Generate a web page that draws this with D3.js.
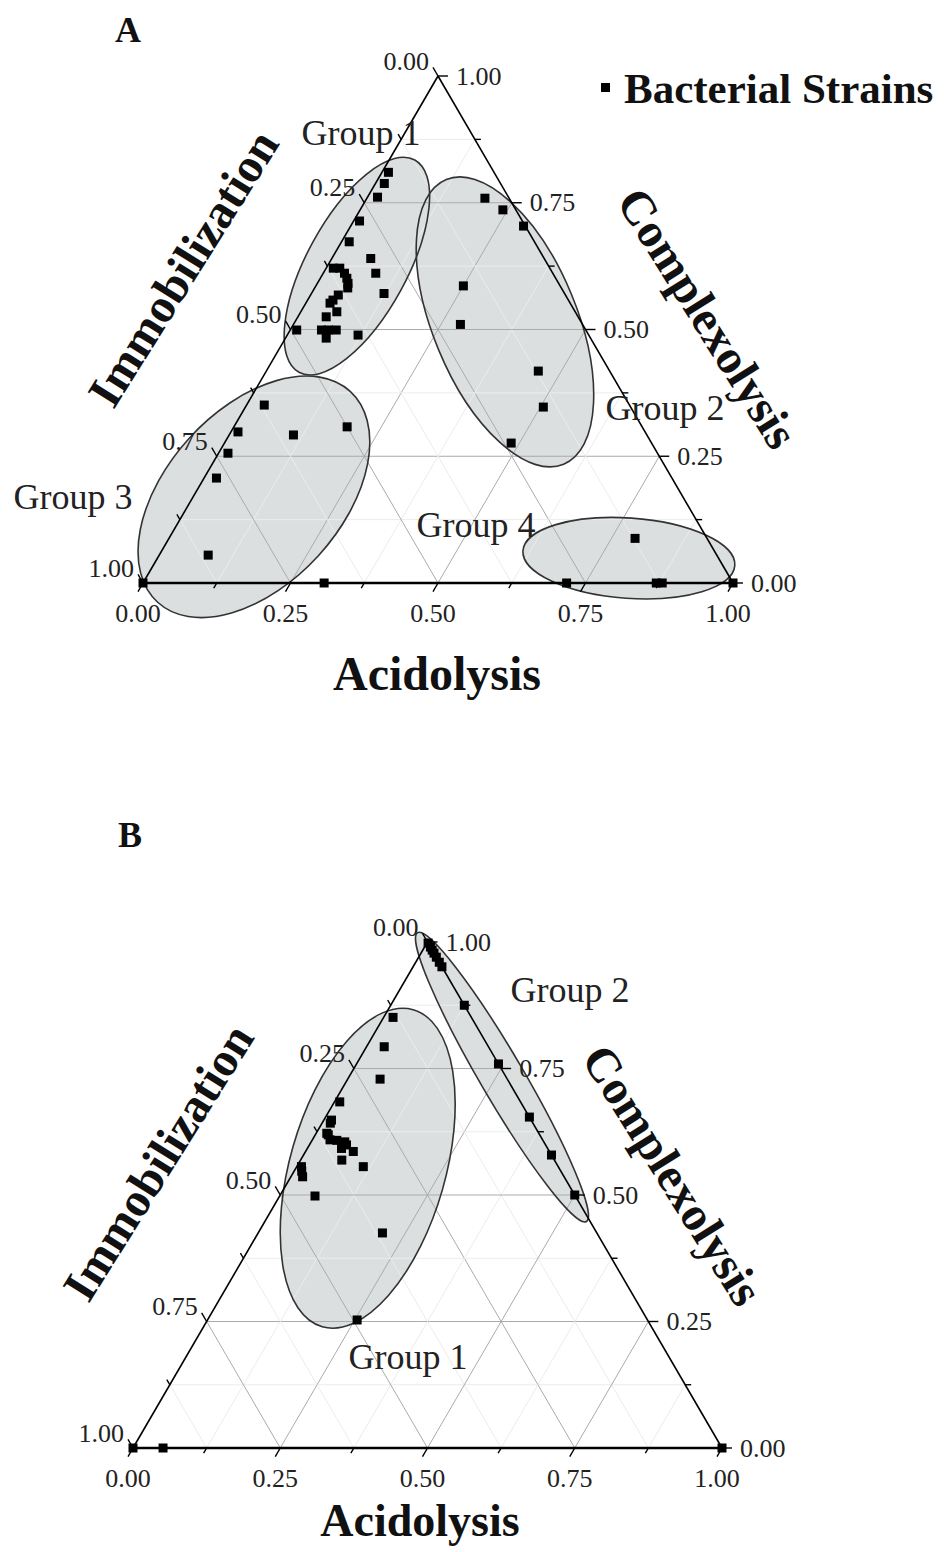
<!DOCTYPE html>
<html><head><meta charset="utf-8">
<script src="https://cdn.jsdelivr.net/npm/d3@7"></script>
<style>body{margin:0;background:#fff}</style>
</head><body>
<svg id="chart" width="944" height="1552"></svg>
<script>
// ---------- DATA: each point = [Immobilization, Acidolysis, Complexolysis] ----------
const axisTicks = [0, 0.25, 0.5, 0.75, 1];
const tickLabels = ["0.00", "0.25", "0.50", "0.75", "1.00"];

const panelA_group1 = [
  [0.179,0.011,0.810],[0.197,0.015,0.788],[0.222,0.017,0.761],[0.276,0.010,0.714],
  [0.314,0.013,0.673],[0.294,0.066,0.640],[0.300,0.089,0.611],[0.306,0.123,0.571],
  [0.367,0.012,0.621],[0.356,0.023,0.621],[0.353,0.036,0.611],[0.354,0.045,0.601],
  [0.357,0.052,0.591],[0.362,0.056,0.582],[0.385,0.047,0.568],[0.399,0.043,0.558],
  [0.407,0.041,0.552],[0.404,0.061,0.535],[0.427,0.048,0.525],[0.490,0.011,0.499],
  [0.448,0.053,0.499],[0.436,0.065,0.499],[0.423,0.078,0.499],[0.448,0.069,0.483],
  [0.391,0.120,0.489]
];
const panelA_group2 = [
  [0.041,0.200,0.759],[0.022,0.242,0.736],[0.003,0.293,0.704],[0.164,0.250,0.586],
  [0.207,0.283,0.510],[0.121,0.461,0.418],[0.148,0.505,0.347],[0.238,0.486,0.276]
];
const panelA_group3 = [
  [0.619,0.030,0.351],[0.690,0.012,0.298],[0.599,0.109,0.292],[0.500,0.192,0.308],
  [0.728,0.016,0.256],[0.772,0.021,0.207],[0.862,0.083,0.055],[1.000,0.000,0.000],
  [0.693,0.307,0.000]
];
const panelA_group4 = [
  [0.122,0.790,0.088],[0.282,0.718,0.000],[0.130,0.870,0.000],[0.120,0.880,0.000],
  [0.000,1.000,0.000]
];

const panelB_group1 = [
  [0.133,0.016,0.851],[0.177,0.030,0.793],[0.216,0.055,0.729],[0.307,0.009,0.684],
  [0.339,0.013,0.648],[0.345,0.014,0.642],[0.359,0.022,0.619],[0.360,0.018,0.622],
  [0.361,0.030,0.609],[0.350,0.042,0.608],[0.338,0.057,0.605],[0.338,0.063,0.599],
  [0.333,0.081,0.586],[0.361,0.070,0.569],[0.350,0.058,0.592],[0.331,0.113,0.556],
  [0.436,0.008,0.556],[0.440,0.013,0.547],[0.444,0.020,0.536],[0.442,0.060,0.498],
  [0.364,0.211,0.425],[0.493,0.254,0.253]
];
const panelB_group2 = [
  [0,0.002,0.998],[0,0.010,0.990],[0,0.016,0.984],[0,0.022,0.978],[0,0.030,0.970],
  [0,0.040,0.960],[0,0.049,0.951],[0,0.125,0.875],[0,0.241,0.759],[0,0.346,0.654],
  [0,0.421,0.579],[0,0.500,0.500]
];
const panelB_other = [
  [1.000,0.000,0.000],[0.949,0.051,0.000],[0.000,1.000,0.000]
];

// group envelopes: centre [Acidolysis, Complexolysis], semi-axes as fraction of side, tilt (deg)
const panelA_groupNames = ["Group 1","Group 2","Group 3","Group 4"];
const panelA_envelopes = [
  {c:[0.050,0.625], a:0.205, b:0.085, t:-61.4},
  {c:[0.356,0.515], a:0.261, b:0.122, t:67.6},
  {c:[0.103,0.170], a:0.242, b:0.148, t:-47.6},
  {c:[0.799,0.049], a:0.180, b:0.068, t:4}
];
const panelB_groupNames = ["Group 1","Group 2"];
const panelB_envelopes = [
  {c:[0.122,0.553], a:0.280, b:0.132, t:-74},
  {c:[0.260,0.733], a:0.284, b:0.037, t:59.7}
];

// ---------- DRAWING ----------
const svg = d3.select("#chart");
const SERIF = "'Liberation Serif','Times New Roman',serif";

function drawPanel(cfg){
  const {x0, y0, side, height, points, envelopes, groupLabels, titles, letter} = cfg;
  const g = svg.append("g");
  const xs = d3.scaleLinear().domain([0,1]).range([x0, x0+side]);
  const ys = d3.scaleLinear().domain([0,1]).range([y0, y0-height]);
  // project (Acidolysis, Complexolysis)
  const P = (A, C) => [xs(A + C/2), ys(C)];
  const line = d3.line();

  // envelope fills
  const env = g.append("g");
  envelopes.forEach(e => {
    const [cx, cy] = P(e.c[0], e.c[1]);
    env.append("ellipse")
      .attr("transform", `translate(${cx},${cy}) rotate(${e.t})`)
      .attr("rx", e.a*side).attr("ry", e.b*side)
      .attr("fill", "#dcdfe0").attr("stroke", "none");
  });

  // grid
  const grid = g.append("g").attr("fill","none");
  d3.range(1,8).forEach(k => {
    const v = k/8, major = k % 2 === 0;
    const col = major ? "#ababab" : "#ececec";
    const segs = [
      [P(0, v), P(1-v, v)],
      [P(v, 0), P(v, 1-v)],
      [P(1-v, 0), P(0, 1-v)]
    ];
    segs.forEach(s => grid.append("path").attr("d", line(s)).attr("stroke", col).attr("stroke-width", 1));
  });

  // envelope outlines
  envelopes.forEach(e => {
    const [cx, cy] = P(e.c[0], e.c[1]);
    g.append("ellipse")
      .attr("transform", `translate(${cx},${cy}) rotate(${e.t})`)
      .attr("rx", e.a*side).attr("ry", e.b*side)
      .attr("fill", "none").attr("stroke", "#333").attr("stroke-width", 1.6);
  });

  // triangle edges
  const ax = g.append("g").attr("fill","none").attr("stroke","#000");
  ax.append("path").attr("d", line([P(0,0), P(1,0)])).attr("stroke-width", 2.6);
  ax.append("path").attr("d", line([P(0,0), P(0,1)])).attr("stroke-width", 1.6);
  ax.append("path").attr("d", line([P(1,0), P(0,1)])).attr("stroke-width", 1.6);

  // ticks
  const dirB = [-0.5, 0.866], dirL = [-0.5, -0.866], dirR = [1, 0];
  d3.range(0,9).forEach(k => {
    const v = k/8, len = (k % 2 === 0) ? 10 : 6;
    const tks = [[P(v,0), dirB], [P(0,1-v), dirL], [P(1-v, v), dirR]];
    tks.forEach(([p, d]) => ax.append("path")
      .attr("d", line([p, [p[0]+d[0]*len, p[1]+d[1]*len]])).attr("stroke-width", 1.4));
  });

  // tick labels
  const tl = g.append("g").attr("font-family", SERIF).attr("font-size", 26).attr("fill", "#222");
  axisTicks.forEach((v, i) => {
    const pb = P(v, 0);
    tl.append("text").attr("x", pb[0]-5).attr("y", pb[1]+30)
      .attr("text-anchor","middle").attr("dominant-baseline","central").text(tickLabels[i]);
    const pl = P(0, 1-v);
    tl.append("text").attr("x", pl[0]-9).attr("y", pl[1]-15)
      .attr("text-anchor","end").attr("dominant-baseline","central").text(tickLabels[i]);
    const pr = P(1-v, v);
    tl.append("text").attr("x", pr[0]+18).attr("y", pr[1])
      .attr("text-anchor","start").attr("dominant-baseline","central").text(tickLabels[i]);
  });

  // points
  const s = 9;
  g.append("g").selectAll("rect").data(points).join("rect")
    .attr("x", d => P(d[1], d[2])[0] - s/2)
    .attr("y", d => P(d[1], d[2])[1] - s/2)
    .attr("width", s).attr("height", s).attr("fill", "#000");

  // group labels
  groupLabels.forEach(l => {
    g.append("text").attr("x", x0 + l.dx).attr("y", y0 + l.dy)
      .attr("text-anchor","middle").attr("dominant-baseline","central")
      .attr("font-family", SERIF).attr("font-size", 36).attr("fill","#222").text(l.text);
  });

  // axis titles
  titles.forEach(t => {
    g.append("text").attr("transform", `translate(${x0+t.dx},${y0+t.dy}) rotate(${t.r})`)
      .attr("text-anchor","middle").attr("dominant-baseline","central")
      .attr("font-family", SERIF).attr("font-weight","bold").attr("font-size", t.fs || 48)
      .attr("fill","#111").text(t.text);
  });

  g.append("text").attr("x", x0 + letter.dx).attr("y", y0 + letter.dy)
    .attr("text-anchor","middle").attr("dominant-baseline","central")
    .attr("font-family", SERIF).attr("font-weight","bold").attr("font-size", 36)
    .attr("fill","#111").text(letter.text);
}

drawPanel({
  x0: 143, y0: 583, side: 590, height: 507,
  points: [...panelA_group1, ...panelA_group2, ...panelA_group3, ...panelA_group4],
  envelopes: panelA_envelopes,
  groupLabels: [
    {text: panelA_groupNames[0], dx: 218, dy: -450},
    {text: panelA_groupNames[1], dx: 522, dy: -175},
    {text: panelA_groupNames[2], dx: -70, dy: -86},
    {text: panelA_groupNames[3], dx: 333, dy: -58}
  ],
  titles: [
    {text:"Immobilization", dx: 40, dy: -315, r: -58},
    {text:"Complexolysis", dx: 565, dy: -265, r: 58},
    {text:"Acidolysis", dx: 294, dy: 90, r: 0}
  ],
  letter: {text:"A", dx: -15, dy: -553}
});

drawPanel({
  x0: 133, y0: 1448, side: 589, height: 506,
  points: [...panelB_group1, ...panelB_group2, ...panelB_other],
  envelopes: panelB_envelopes,
  groupLabels: [
    {text: panelB_groupNames[0], dx: 275, dy: -91},
    {text: panelB_groupNames[1], dx: 437, dy: -458}
  ],
  titles: [
    {text:"Immobilization", dx: 25, dy: -286, r: -58},
    {text:"Complexolysis", dx: 540, dy: -273, r: 58},
    {text:"Acidolysis", dx: 287, dy: 72, r: 0, fs: 46}
  ],
  letter: {text:"B", dx: -3, dy: -613}
});

// legend
const lg = svg.append("g");
lg.append("rect").attr("x", 601).attr("y", 83).attr("width", 9).attr("height", 9).attr("fill","#000");
lg.append("text").attr("x", 624).attr("y", 88).attr("dominant-baseline","central")
  .attr("font-family", SERIF).attr("font-weight","bold").attr("font-size", 43)
  .attr("fill","#111").text("Bacterial Strains");
</script>
</body></html>
